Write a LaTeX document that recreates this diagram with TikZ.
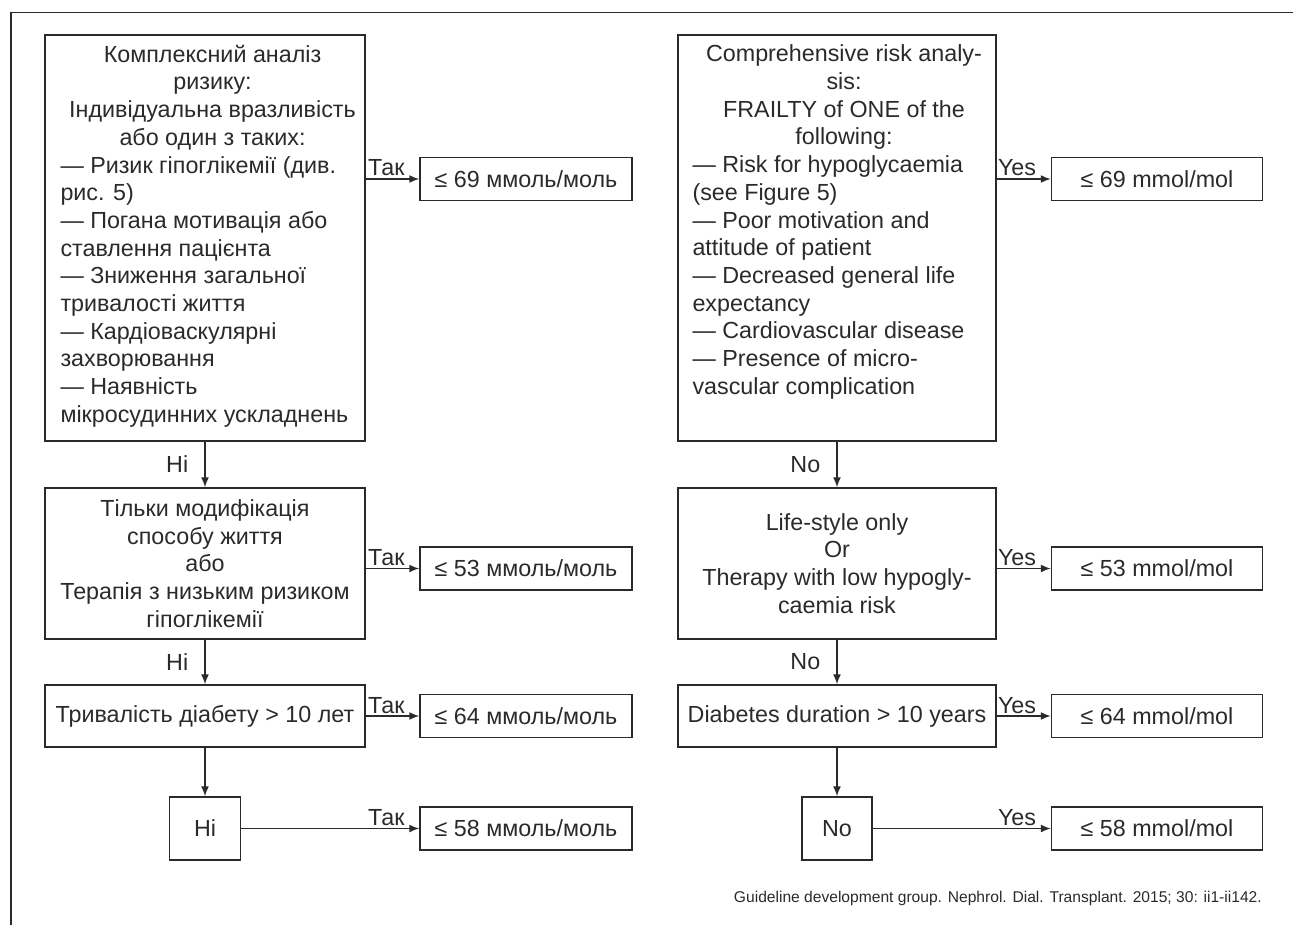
\documentclass[tikz,border=0pt]{standalone}
\usepackage{fontspec}
\setmainfont{Liberation Sans}
\usetikzlibrary{arrows.meta}
\definecolor{ink}{HTML}{2A2A2A}
\tikzset{
  riskbox/.style={draw=ink, line width=1.5pt, minimum width=320pt, minimum height=406pt, inner sep=0pt},
  crit/.style={draw=ink, line width=1.5pt, minimum width=320pt, inner sep=0pt, align=center},
  goal/.style={draw=ink, line width=1.5pt, minimum width=212pt, minimum height=43pt, inner sep=0pt},
  nobox/.style={draw=ink, line width=1.5pt, minimum width=71pt, minimum height=63pt, inner sep=0pt},
  flow/.style={->, draw=ink, line width=1.5pt},
  yeslab/.style={anchor=base east, inner sep=0pt, xshift=-14pt, yshift=3pt},
  nolab/.style={anchor=east, inner sep=0pt, xshift=-16pt}
}
\begin{document}
\begin{tikzpicture}[x=1pt, y=-1pt, >={Latex[length=10pt,width=8pt]},
  font={\fontsize{23.3}{27.7}\selectfont}, text=ink]
\useasboundingbox (0,0) rectangle (1293,925);
\draw[ink, line width=1.5pt] (11,925) -- (11,12.3) -- (1293,12.3);

% left column
\node[riskbox] (uaRisk) at (205,238) {\hspace*{15pt}\parbox[c][386pt][t]{304pt}{{\centering
  Комплексний аналіз\\ризику:\\Індивідуальна вразливість\\або один з таких:\par}\raggedright
  — Ризик гіпоглікемії (див.\\рис. 5)\\— Погана мотивація або\\ставлення пацієнта\\— Зниження загальної\\тривалості життя\\— Кардіоваскулярні\\захворювання\\— Наявність\\мікросудинних ускладнень}};
\node[crit, minimum height=151pt] (uaLife) at (205,563.5) {Тільки модифікація\\способу життя\\або\\Терапія з низьким ризиком\\гіпоглікемії};
\node[crit, minimum height=62pt] (uaDur) at (205,716) {Тривалість діабету > 10 лет};
\node[nobox] (uaNo) at (205,828.5) {Ні};
\node[goal] (uaG1) at (526,179) {≤ 69 ммоль/моль};
\node[goal] (uaG2) at (526,568.5) {≤ 53 ммоль/моль};
\node[goal] (uaG3) at (526,716) {≤ 64 ммоль/моль};
\node[goal] (uaG4) at (526,828.5) {≤ 58 ммоль/моль};

\draw[flow] (uaRisk) -- (uaLife) node[nolab, midway] {Ні};
\draw[flow] (uaLife) -- (uaDur) node[nolab, midway] {Ні};
\draw[flow] (uaDur) -- (uaNo);
\draw[flow] (uaG1.west -| uaRisk.east) -- (uaG1) node[yeslab, pos=1] {Так};
\draw[flow] (uaG2.west -| uaLife.east) -- (uaG2) node[yeslab, pos=1] {Так};
\draw[flow] (uaDur) -- (uaG3) node[yeslab, pos=1] {Так};
\draw[flow] (uaNo) -- (uaG4) node[yeslab, pos=1] {Так};

% right column
\node[riskbox, minimum width=318pt] (enRisk) at (837,238) {\hspace*{14pt}\parbox[c][386pt][t]{303pt}{{\centering
  Comprehensive risk analy-\\sis:\\FRAILTY of ONE of the\\following:\par}\raggedright
  — Risk for hypoglycaemia\\(see Figure 5)\\— Poor motivation and\\attitude of patient\\— Decreased general life\\expectancy\\— Cardiovascular disease\\— Presence of micro-\\vascular complication}};
\node[crit, minimum width=318pt, minimum height=151pt] (enLife) at (837,563.5) {Life-style only\\Or\\Therapy with low hypogly-\\caemia risk};
\node[crit, minimum width=318pt, minimum height=62pt] (enDur) at (837,716) {Diabetes duration > 10 years};
\node[nobox, minimum width=70pt] (enNo) at (837,828.5) {No};
\node[goal, minimum width=211pt] (enG1) at (1157,179) {≤ 69 mmol/mol};
\node[goal, minimum width=211pt] (enG2) at (1157,568.5) {≤ 53 mmol/mol};
\node[goal, minimum width=211pt] (enG3) at (1157,716) {≤ 64 mmol/mol};
\node[goal, minimum width=211pt] (enG4) at (1157,828.5) {≤ 58 mmol/mol};

\draw[flow] (enRisk) -- (enLife) node[nolab, midway] {No};
\draw[flow] (enLife) -- (enDur) node[nolab, midway] {No};
\draw[flow] (enDur) -- (enNo);
\draw[flow] (enG1.west -| enRisk.east) -- (enG1) node[yeslab, pos=1] {Yes};
\draw[flow] (enG2.west -| enLife.east) -- (enG2) node[yeslab, pos=1] {Yes};
\draw[flow] (enDur) -- (enG3) node[yeslab, pos=1] {Yes};
\draw[flow] (enNo) -- (enG4) node[yeslab, pos=1] {Yes};

\node[anchor=base east, inner sep=0pt, font={\fontsize{15.6}{18}\selectfont}] (src) at (1262,902)
  {Guideline development group. Nephrol. Dial. Transplant. 2015; 30: ii1-ii142.};
\end{tikzpicture}
\end{document}
